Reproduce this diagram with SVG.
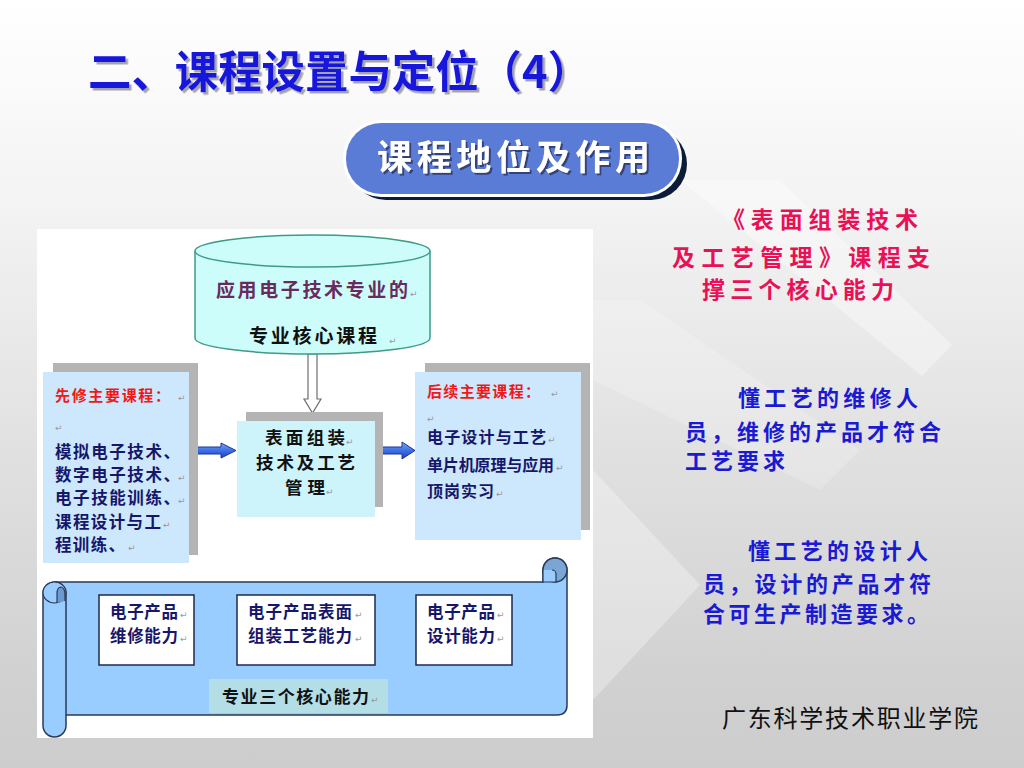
<svg xmlns="http://www.w3.org/2000/svg" width="1024" height="768" viewBox="0 0 1024 768">
<defs>
<linearGradient id="bg" x1="0" y1="0" x2="0" y2="1">
<stop offset="0" stop-color="#ffffff"/>
<stop offset="0.25" stop-color="#f4f4f4"/>
<stop offset="0.6" stop-color="#e0e0e0"/>
<stop offset="0.9" stop-color="#d0d0d0"/>
<stop offset="1" stop-color="#cdcdcd"/>
</linearGradient>
<linearGradient id="blueArrow" x1="0" y1="0" x2="0" y2="1">
<stop offset="0" stop-color="#7aa6f5"/>
<stop offset="0.5" stop-color="#3f6fe6"/>
<stop offset="1" stop-color="#1f3fb8"/>
</linearGradient>
<filter id="tsh" x="-5%" y="-20%" width="110%" height="140%">
<feDropShadow dx="2.5" dy="2.5" stdDeviation="0.6" flood-color="#8c8c99" flood-opacity="0.8"/>
</filter>
<filter id="tsh2" x="-5%" y="-20%" width="110%" height="140%">
<feDropShadow dx="2" dy="2" stdDeviation="0.6" flood-color="#2a3460" flood-opacity="0.8"/>
</filter>
<style>
.cjk{font-family:"Noto Sans CJK SC","Noto Sans",sans-serif;}
.pm{font-family:"DejaVu Sans",sans-serif;font-size:9px;fill:#9a9a9a;}
.navy{fill:#16166a;font-weight:bold;}
.red{fill:#f01818;font-weight:bold;}
.shadow{fill:#b4b4b4;}
.box{stroke:#1c2a4a;stroke-width:1.5;fill:#ffffff;}
.scroll{fill:#99ccff;stroke:#2a3a55;stroke-width:1.5;}
.barrow{fill:url(#blueArrow);stroke:#1a3499;stroke-width:1;}
.rtxt{fill:#ea1056;font-weight:bold;font-size:23px;}
.btxt{fill:#1a1ad2;font-weight:bold;font-size:22px;}
</style>
</defs>

<!-- background -->
<rect x="0" y="0" width="1024" height="768" fill="url(#bg)"/>
<g fill="#ffffff">
<polygon points="680,180 780,180 952,345 922,376" opacity="0.35"/>
<polygon points="593,300 640,300 860,450 820,490 593,380" opacity="0.2"/>
<polygon points="593,470 700,585 593,700" opacity="0.3"/>
</g>

<!-- title -->
<g id="title">
<text class="cjk" x="88" y="88" font-size="44" font-weight="bold" fill="#1414dc" textLength="503" lengthAdjust="spacingAndGlyphs" filter="url(#tsh)">二、课程设置与定位（4）</text>
</g>

<!-- badge -->
<g id="badge">
<rect x="350" y="128" width="337" height="72" rx="36" fill="#0c1c36"/>
<rect x="343" y="120" width="339" height="77" rx="38" fill="#ffffff"/>
<rect x="346" y="123" width="333" height="71" rx="35" fill="#5b7cd6"/>
<text class="cjk" x="377" y="170" font-size="35" font-weight="bold" fill="#ffffff" textLength="273" filter="url(#tsh2)">课程地位及作用</text>
</g>

<!-- diagram image area -->
<rect x="37" y="229" width="556" height="509" fill="#ffffff"/>

<!-- connectors -->
<g id="connectors">
<path d="M308,354 L317,354 L317,399 L321,399 L312.5,413 L304,399 L308,399 Z" fill="#ffffff" stroke="#6e6e6e" stroke-width="1.2"/>
<path class="barrow" d="M182,447 L221,447 L221,443 L236,450.5 L221,458 L221,454 L182,454 Z"/>
<path class="barrow" d="M374,447 L402,447 L402,442 L415,450.5 L402,459 L402,454 L374,454 Z"/>
</g>

<!-- cylinder -->
<g id="core">
<path d="M195,251 L195,338 A117.5,16 0 0 0 430,338 L430,251" fill="#ccfdfb" stroke="#3f9a86" stroke-width="1.5"/>
<ellipse cx="312.5" cy="251" rx="117.5" ry="16" fill="#ccfdfb" stroke="#3f9a86" stroke-width="1.5"/>
<text class="cjk" x="216" y="297" font-size="19" fill="#6a2a5c" font-weight="bold" textLength="192">应用电子技术专业的</text>
<text class="pm" x="410" y="297">↵</text>
<text class="cjk" x="249" y="343" font-size="19" fill="#111111" font-weight="bold" textLength="128">专业核心课程</text>
<text class="pm" x="389" y="344">↵</text>
</g>

<!-- center box -->
<g id="center">
<rect class="shadow" x="246" y="412" width="137" height="95"/>
<rect x="237" y="421" width="138" height="96" fill="#ccf4fa"/>
<text class="cjk" x="265" y="444" font-size="17.5" fill="#111111" font-weight="bold" textLength="80">表面组装</text>
<text class="pm" x="346" y="445">↵</text>
<text class="cjk" x="256" y="469" font-size="17.5" fill="#111111" font-weight="bold" textLength="99">技术及工艺</text>
<text class="cjk" x="285" y="494" font-size="17.5" fill="#111111" font-weight="bold" textLength="40">管理</text>
<text class="pm" x="326" y="495">↵</text>
</g>

<!-- left box -->
<g id="pre">
<rect class="shadow" x="53" y="363" width="145" height="192"/>
<rect x="43" y="372" width="146" height="191" fill="#cde8fc"/>
<text class="cjk red" x="55" y="401" font-size="15" textLength="115">先修主要课程：</text>
<text class="pm" x="178" y="401">↵</text>
<text class="pm" x="55" y="431">↵</text>
<g class="cjk navy" font-size="16.5">
<text x="55" y="458" textLength="125">模拟电子技术、</text>
<text x="55" y="481" textLength="125">数字电子技术、</text>
<text x="55" y="504" textLength="125">电子技能训练、</text>
<text x="55" y="528" textLength="106">课程设计与工</text>
<text x="55" y="551" textLength="70">程训练、</text>
</g>
<text class="pm" x="178" y="481">↵</text>
<text class="pm" x="178" y="504">↵</text>
<text class="pm" x="163" y="528">↵</text>
<text class="pm" x="128" y="551">↵</text>
</g>

<!-- right box -->
<g id="post">
<rect class="shadow" x="425" y="363" width="165" height="167"/>
<rect x="415" y="372" width="166" height="168" fill="#cde8fc"/>
<text class="cjk red" x="427" y="397" font-size="15" textLength="113">后续主要课程：</text>
<text class="pm" x="551" y="397">↵</text>
<text class="pm" x="427" y="422">↵</text>
<g class="cjk navy" font-size="16">
<text x="427" y="443" textLength="119">电子设计与工艺</text>
<text x="427" y="471" textLength="127">单片机原理与应用</text>
<text x="427" y="497" textLength="67">顶岗实习</text>
</g>
<text class="pm" x="548" y="443">↵</text>
<text class="pm" x="556" y="471">↵</text>
<text class="pm" x="496" y="497">↵</text>
</g>

<!-- scroll -->
<g id="scroll">
<path class="scroll" d="M55,582 L543,582 L543,570 A12,12 0 0 1 567,570 L567,705 Q567,715 557,715 L60,715 Z"/>
<circle cx="555" cy="570" r="12" fill="#7aa6d6" stroke="#2a3a55" stroke-width="1.5"/>
<path d="M543,570 L543,582 L556,582 L556,574 A4,4 0 0 0 552,570" fill="#99ccff" stroke="#2a3a55" stroke-width="1.2"/>
<rect class="scroll" x="43" y="582" width="23" height="155" rx="11.5"/>
<ellipse cx="54.5" cy="592.5" rx="11.5" ry="10.5" fill="#99ccff" stroke="#2a3a55" stroke-width="1.2"/>
<path d="M57,603 L57,594 Q57,587 61,587 Q65,588 65,595 L65,601" fill="#6c9ad0" stroke="#2a3a55" stroke-width="1.2"/>
</g>

<g id="cap1">
<rect class="box" x="99" y="595" width="95" height="70"/>
<g class="cjk navy" font-size="16.5">
<text x="110" y="618" textLength="68">电子产品</text>
<text x="110" y="642" textLength="68">维修能力</text>
</g>
<text class="pm" x="180" y="618">↵</text>
<text class="pm" x="180" y="642">↵</text>
</g>
<g id="cap2">
<rect class="box" x="237" y="595" width="138" height="70"/>
<g class="cjk navy" font-size="16.5">
<text x="248" y="618" textLength="104">电子产品表面</text>
<text x="248" y="642" textLength="104">组装工艺能力</text>
</g>
<text class="pm" x="355" y="618">↵</text>
<text class="pm" x="355" y="642">↵</text>
</g>
<g id="cap3">
<rect class="box" x="416" y="595" width="96" height="70"/>
<g class="cjk navy" font-size="16.5">
<text x="427" y="618" textLength="68">电子产品</text>
<text x="427" y="642" textLength="68">设计能力</text>
</g>
<text class="pm" x="497" y="618">↵</text>
<text class="pm" x="497" y="642">↵</text>
</g>
<g id="capLabel">
<rect x="209" y="679" width="179" height="34" fill="#b4dee6"/>
<text class="cjk" x="222" y="703" font-size="17" fill="#111111" font-weight="bold" textLength="147">专业三个核心能力</text>
<text class="pm" x="371" y="703">↵</text>
</g>

<!-- right texts -->
<g id="support" class="cjk rtxt">
<text x="722" y="228" textLength="196">《表面组装技术</text>
<text x="672" y="266" textLength="258">及工艺管理》课程支</text>
<text x="702" y="298" textLength="192">撑三个核心能力</text>
</g>
<g id="repair" class="cjk btxt">
<text x="738" y="406" textLength="180">懂工艺的维修人</text>
<text x="685" y="440" textLength="256">员，维修的产品才符合</text>
<text x="685" y="469" textLength="100">工艺要求</text>
</g>
<g id="design" class="cjk btxt">
<text x="748" y="559" textLength="180">懂工艺的设计人</text>
<text x="703" y="592" textLength="228">员，设计的产品才符</text>
<text x="703" y="622" textLength="226">合可生产制造要求。</text>
</g>
<text class="cjk" x="722" y="727" font-size="24" fill="#111111" textLength="256">广东科学技术职业学院</text>
</svg>
